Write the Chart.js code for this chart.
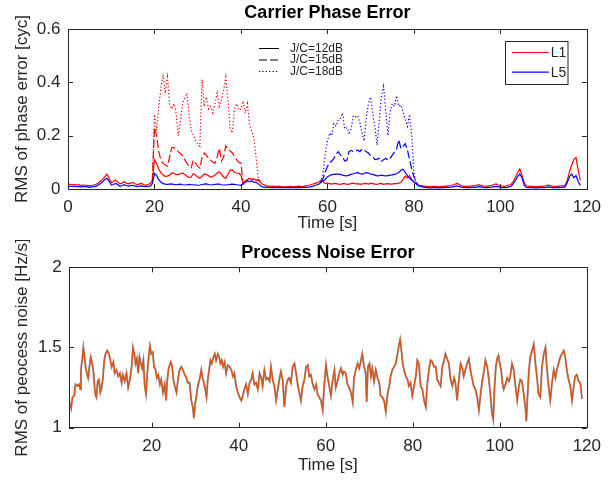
<!DOCTYPE html>
<html>
<head>
<meta charset="utf-8">
<script src="https://cdn.jsdelivr.net/npm/chart.js@4.4.1/dist/chart.umd.min.js"></script>
<style>
  body { margin: 0; background: #fff; }
  canvas { display: block; }
</style>
</head>
<body>
<canvas id="phaseChart" width="609" height="240"></canvas>
<canvas id="noiseChart" width="609" height="241"></canvas>
<script>
// ---------- data ----------
const bandLabels = ['L1', 'L5'];
const levelLabels = ['J/C=12dB', 'J/C=15dB', 'J/C=18dB'];

const phaseXTicks = [0, 20, 40, 60, 80, 100, 120];
const phaseYTicks = [0, 0.2, 0.4, 0.6];
const noiseXTicks = [20, 40, 60, 80, 100, 120];
const noiseYTicks = [1, 1.5, 2];

// RMS phase error, sampled every 0.5 s starting at t = 0
const sampleStep = 0.5;
const l1Solid = [
  .018,.017,.016,.017,.015,.016,.013,.015,.014,.013,
  .012,.014,.015,.018,.022,.03,.036,.045,.056,.04,
  .024,.028,.034,.026,.019,.022,.027,.022,.019,.022,
  .025,.02,.016,.019,.021,.017,.014,.017,.02,.03,
  .11,.095,.075,.06,.052,.047,.048,.052,.06,.058,
  .055,.054,.057,.06,.054,.048,.043,.045,.058,.052,
  .045,.04,.048,.056,.055,.05,.045,.047,.052,.06,
  .065,.055,.045,.04,.055,.07,.072,.063,.06,.058,
  .052,.018,.03,.035,.04,.035,.038,.032,.035,.025,
  .018,.015,.012,.011,.01,.011,.009,.01,.01,.009,
  .008,.009,.009,.01,.008,.009,.01,.011,.009,.01,
  .012,.014,.015,.018,.02,.023,.025,.034,.028,.02,
  .022,.02,.018,.021,.02,.018,.017,.02,.02,.017,
  .018,.021,.022,.019,.02,.018,.018,.021,.02,.018,
  .022,.02,.018,.017,.02,.021,.017,.019,.02,.018,
  .018,.02,.02,.022,.025,.035,.048,.042,.05,.036,
  .025,.02,.015,.013,.012,.011,.01,.009,.009,.01,
  .01,.009,.009,.01,.01,.011,.012,.013,.015,.018,
  .021,.017,.012,.011,.01,.01,.011,.012,.012,.014,
  .016,.014,.012,.011,.01,.012,.014,.017,.019,.015,
  .012,.011,.01,.012,.015,.017,.028,.045,.062,.075,
  .052,.024,.012,.011,.01,.01,.009,.009,.01,.01,
  .011,.012,.015,.014,.011,.01,.01,.011,.012,.012,
  .015,.034,.065,.09,.11,.118,.07,.032
];
const l5Solid = [
  .011,.01,.01,.01,.009,.009,.008,.009,.009,.008,
  .006,.008,.009,.011,.015,.02,.027,.035,.04,.03,
  .015,.017,.021,.017,.01,.012,.016,.013,.011,.013,
  .014,.011,.009,.011,.012,.01,.009,.01,.011,.02,
  .058,.05,.035,.025,.02,.018,.017,.018,.019,.017,
  .016,.017,.018,.016,.015,.016,.017,.016,.016,.015,
  .014,.015,.017,.018,.019,.017,.015,.016,.017,.018,
  .018,.016,.015,.015,.016,.017,.018,.017,.016,.015,
  .014,.02,.025,.03,.028,.03,.026,.025,.02,.012,
  .008,.007,.006,.006,.005,.006,.005,.005,.006,.005,
  .005,.005,.006,.005,.005,.006,.005,.006,.005,.006,
  .006,.007,.008,.01,.012,.015,.018,.025,.03,.036,
  .046,.05,.054,.055,.056,.056,.055,.052,.05,.049,
  .052,.055,.057,.06,.061,.058,.056,.058,.061,.06,
  .056,.055,.052,.049,.05,.052,.05,.049,.05,.052,
  .053,.055,.058,.062,.07,.074,.062,.05,.04,.034,
  .027,.021,.012,.01,.008,.006,.005,.004,.004,.005,
  .005,.004,.004,.005,.005,.006,.006,.007,.008,.01,
  .012,.009,.007,.006,.005,.005,.005,.006,.006,.007,
  .009,.008,.006,.005,.005,.006,.007,.009,.01,.008,
  .006,.005,.005,.006,.008,.01,.02,.033,.047,.056,
  .043,.014,.006,.005,.005,.005,.004,.004,.005,.005,
  .005,.006,.008,.007,.005,.005,.005,.005,.006,.006,
  .008,.025,.047,.056,.042,.05,.029,.013
];

// stronger jamming: only where they leave the 12dB curve
const l1JamStart = 19.5;
const l1Dashed = [
  .03,
  .23,.2,.14,.107,.096,.09,.086,.12,.155,.155,
  .147,.14,.132,.125,.11,.097,.085,.08,.108,.097,
  .085,.078,.12,.135,.127,.115,.108,.1,.097,.12,
  .152,.105,.12,.162,.15,.143,.135,.122,.11,.1,
  .097,.02,.03,.035,.04,.035,.038,.032,.035,.025
];
const l1Dotted = [
  .03,
  .28,.22,.31,.38,.43,.36,.42,.32,.3,.32,
  .285,.2,.25,.32,.34,.36,.28,.22,.2,.18,
  .17,.16,.41,.31,.345,.3,.31,.285,.32,.36,
  .31,.335,.37,.42,.33,.23,.21,.3,.32,.295,
  .3,.33,.285,.32,.24,.22,.19,.12,.045,.025
];
const l5JamStart = 58.5;
const l5Dashed = [
  .025,
  .04,.065,.085,.097,.105,.115,.13,.14,.128,.12,
  .105,.108,.14,.145,.14,.142,.146,.14,.15,.145,
  .14,.135,.125,.12,.11,.112,.115,.104,.11,.115,
  .108,.115,.127,.138,.15,.185,.152,.16,.17,.146,
  .11,.075,.046,.027,.012
];
const l5Dotted = [
  .025,
  .06,.13,.18,.21,.2,.245,.235,.26,.265,.285,
  .225,.23,.21,.225,.275,.27,.275,.25,.21,.18,
  .27,.32,.345,.28,.23,.165,.26,.35,.385,.29,
  .2,.29,.32,.31,.35,.31,.315,.29,.26,.235,
  .28,.2,.06,.025,.012
];

// RMS process noise
const noiseTime = [
  1,1.5,1.8,2.2,2.5,3,3.3,3.6,3.75,4.1,
  4.3,4.5,4.8,5.1,5.4,5.7,6,6.35,6.65,7,
  7.3,7.6,7.9,8.2,8.5,8.8,9.1,9.4,9.8,10.2,
  10.5,10.8,11.2,11.5,11.9,12.3,12.7,13.1,13.4,13.8,
  14.2,14.6,15,15.4,15.7,16,16.3,16.6,16.9,17.2,
  17.5,17.8,18.1,18.4,18.7,19,19.3,19.6,19.9,20.25,
  20.55,20.9,21.2,21.5,21.9,22.2,22.6,23,23.3,23.6,
  23.9,24.4,24.7,25,25.3,25.7,26.1,26.4,26.8,27.2,
  27.6,28,28.3,28.7,29.1,29.5,29.7,30,30.3,30.6,
  31,31.4,31.7,32,32.3,32.6,32.9,33.2,33.5,33.8,
  34.2,34.5,34.8,35.2,35.5,35.8,36.1,36.4,36.75,37.1,
  37.5,37.9,38.3,38.7,39,39.4,39.8,40.2,40.6,40.95,
  41.3,41.7,42.1,42.5,42.9,43.2,43.6,44,44.4,44.8,
  45.2,45.5,45.9,46.3,46.7,47.1,47.4,47.8,48.2,48.6,
  49,49.4,49.7,50.1,50.5,50.9,51.3,51.6,52,52.4,
  52.8,53.2,53.6,54,54.3,54.7,55.1,55.5,55.9,56.2,
  56.6,57,57.4,57.8,58.1,58.5,58.9,59.3,59.7,60.05,
  60.4,60.8,61.2,61.6,62,62.3,62.7,63.1,63.5,63.9,
  64.2,64.6,65,65.4,65.8,66.2,66.5,66.9,67.3,67.7,
  68.1,68.4,68.8,69.2,69.4,69.7,70.05,70.4,70.7,71.1,
  71.5,71.9,72.3,72.6,73,73.4,73.8,74.2,74.6,74.9,
  75.3,75.7,76.1,76.5,76.85,77.1,77.4,77.7,78,78.4,
  78.8,79.1,79.5,79.9,80.3,80.7,81.05,81.4,81.8,82.2,
  82.6,83,83.3,83.7,84.1,84.5,84.9,85.3,85.6,86,
  86.4,86.8,87.2,87.5,87.9,88.3,88.7,89.1,89.5,89.8,
  90.2,90.6,91,91.4,91.7,92.1,92.5,92.9,93.3,93.7,
  94,94.4,94.8,95.2,95.6,96,96.3,96.7,97.1,97.5,
  97.9,98.2,98.5,98.8,99.1,99.4,99.7,100,100.3,100.6,
  100.9,101.3,101.7,102.1,102.4,102.8,103.2,103.6,104,104.4,
  104.7,105.1,105.5,105.9,106.1,106.4,106.7,107,107.4,107.8,
  108.2,108.6,108.9,109.3,109.7,110.1,110.5,110.8,111.2,111.6,
  112,112.4,112.8,113.1,113.5,113.9,114.3,114.7,115.05,115.4,
  115.8,116.2,116.6,117,117.3,117.7,118.1,118.5,118.9
];
const noiseVal = [
  1.17,1.12,1.19,1.20,1.27,1.26,1.27,1.24,1.36,1.44,
  1.50,1.46,1.38,1.34,1.31,1.38,1.44,1.40,1.34,1.21,
  1.19,1.29,1.30,1.22,1.25,1.31,1.42,1.46,1.48,1.46,
  1.42,1.38,1.41,1.34,1.36,1.32,1.34,1.28,1.33,1.29,
  1.34,1.25,1.30,1.38,1.50,1.46,1.40,1.43,1.34,1.44,
  1.40,1.37,1.42,1.26,1.21,1.34,1.44,1.51,1.46,1.47,
  1.38,1.36,1.31,1.33,1.27,1.30,1.22,1.27,1.17,1.30,
  1.37,1.41,1.38,1.30,1.26,1.22,1.31,1.36,1.38,1.36,
  1.33,1.31,1.28,1.28,1.17,1.12,1.06,1.15,1.20,1.26,
  1.30,1.36,1.31,1.28,1.24,1.19,1.30,1.36,1.42,1.40,
  1.44,1.46,1.42,1.46,1.44,1.40,1.42,1.38,1.41,1.34,
  1.39,1.38,1.36,1.32,1.34,1.26,1.22,1.19,1.17,1.20,
  1.24,1.27,1.21,1.28,1.30,1.34,1.27,1.28,1.24,1.34,
  1.31,1.26,1.36,1.30,1.31,1.29,1.38,1.30,1.26,1.17,
  1.24,1.31,1.35,1.30,1.13,1.26,1.30,1.31,1.28,1.38,
  1.40,1.34,1.26,1.21,1.17,1.26,1.30,1.38,1.39,1.32,
  1.33,1.27,1.24,1.27,1.21,1.19,1.17,1.11,1.28,1.39,
  1.32,1.26,1.20,1.30,1.36,1.25,1.29,1.34,1.37,1.33,
  1.35,1.34,1.27,1.25,1.22,1.16,1.31,1.36,1.40,1.37,
  1.42,1.46,1.38,1.34,1.16,1.38,1.40,1.32,1.37,1.29,
  1.36,1.31,1.28,1.20,1.19,1.17,1.10,1.21,1.26,1.32,
  1.36,1.38,1.40,1.46,1.52,1.55,1.48,1.40,1.36,1.32,
  1.30,1.26,1.28,1.20,1.26,1.32,1.42,1.40,1.26,1.24,
  1.17,1.13,1.26,1.36,1.42,1.41,1.38,1.38,1.30,1.28,
  1.26,1.38,1.42,1.46,1.43,1.40,1.30,1.26,1.31,1.28,
  1.17,1.30,1.40,1.37,1.32,1.36,1.40,1.43,1.35,1.30,
  1.26,1.24,1.19,1.11,1.21,1.30,1.34,1.42,1.38,1.30,
  1.19,1.09,1.05,1.26,1.38,1.43,1.45,1.40,1.36,1.28,
  1.24,1.27,1.31,1.29,1.32,1.40,1.36,1.26,1.17,1.26,
  1.30,1.29,1.21,1.12,1.04,1.21,1.36,1.44,1.48,1.52,
  1.40,1.30,1.21,1.19,1.38,1.46,1.50,1.38,1.26,1.17,
  1.28,1.36,1.31,1.36,1.40,1.44,1.46,1.48,1.44,1.36,
  1.30,1.26,1.17,1.26,1.32,1.33,1.29,1.28,1.18
];

// ---------- styling ----------
const axisColor = '#262626';
const bandColors = ['#ff0000', '#0000ff'];
const levelDash = [[], [8, 3], [1.2, 2.2]];

Chart.defaults.font.family = "'Liberation Sans', Arial, Helvetica, sans-serif";
Chart.defaults.color = axisColor;

function sampled(start, vals) {
  return vals.map((v, i) => ({ x: start + i * sampleStep, y: v }));
}

function axis(min, max, tickValues, title, o) {
  return {
    type: 'linear', min: min, max: max,
    grid: { display: false, drawTicks: false },
    border: { display: false },
    afterBuildTicks: s => { s.ticks = tickValues.map(v => ({ value: v })); },
    afterFit: s => { if (s.isHorizontal()) s.height = o.size; else s.width = o.size; },
    ticks: { font: { size: 17 }, padding: o.pad, maxRotation: 0, autoSkip: false, callback: v => String(v) },
    title: { display: true, text: title, font: { size: 17 }, padding: o.titlePad }
  };
}

// MATLAB style box with inward ticks
const matlabBox = {
  id: 'matlabBox',
  afterDatasetsDraw(chart) {
    const { ctx, chartArea: a, scales: { x, y } } = chart;
    ctx.save();
    ctx.lineWidth = 1;
    ctx.strokeStyle = axisColor;
    ctx.beginPath();
    x.ticks.forEach(t => {
      const px = Math.round(x.getPixelForValue(t.value)) + 0.5;
      ctx.moveTo(px, a.bottom); ctx.lineTo(px, a.bottom - 5);
      ctx.moveTo(px, a.top); ctx.lineTo(px, a.top + 5);
    });
    y.ticks.forEach(t => {
      const py = Math.round(y.getPixelForValue(t.value)) + 0.5;
      ctx.moveTo(a.left, py); ctx.lineTo(a.left + 5, py);
      ctx.moveTo(a.right, py); ctx.lineTo(a.right - 5, py);
    });
    ctx.stroke();
    ctx.strokeRect(Math.round(a.left) + 0.5, Math.round(a.top) + 0.5,
      Math.round(a.width), Math.round(a.height));
    ctx.restore();
  }
};

// the two legends of the phase plot
const phaseLegends = {
  id: 'phaseLegends',
  afterDraw(chart) {
    const { ctx, chartArea: a } = chart;
    ctx.save();
    ctx.lineWidth = 1;
    ctx.textBaseline = 'middle';
    // line styles
    ctx.font = "12px 'Liberation Sans', Arial, sans-serif";
    levelLabels.forEach((lab, i) => {
      const yy = a.top + 19.5 + i * 11.5;
      ctx.strokeStyle = '#000';
      ctx.setLineDash(levelDash[i]);
      ctx.beginPath();
      ctx.moveTo(a.left + 191, yy); ctx.lineTo(a.left + 211, yy);
      ctx.stroke();
      ctx.setLineDash([]);
      ctx.fillStyle = axisColor;
      ctx.fillText(lab, a.left + 222, yy);
    });
    // bands
    const bx = a.right - 81.5, by = a.top + 11.5, bw = 62.5, bh = 43;
    ctx.fillStyle = '#fff';
    ctx.fillRect(bx, by, bw, bh);
    ctx.strokeStyle = axisColor;
    ctx.strokeRect(Math.round(bx) + 0.5, Math.round(by) + 0.5, bw, bh);
    ctx.font = "14px 'Liberation Sans', Arial, sans-serif";
    bandLabels.forEach((lab, i) => {
      const yy = by + 12 + i * 19.6;
      ctx.strokeStyle = bandColors[i];
      ctx.lineWidth = 1.2;
      ctx.beginPath();
      ctx.moveTo(bx + 6.5, yy); ctx.lineTo(bx + 43.5, yy);
      ctx.stroke();
      ctx.fillStyle = axisColor;
      ctx.fillText(lab, bx + 45.5, yy + 1);
    });
    ctx.restore();
  }
};

function line(label, data, color, dash, width) {
  return {
    label: label, data: data, borderColor: color, borderDash: dash,
    borderWidth: width, pointRadius: 0, tension: 0, fill: false
  };
}

// ---------- top: carrier phase error ----------
const phaseSets = [
  line('L5 ' + levelLabels[0], sampled(0, l5Solid), bandColors[1], levelDash[0], 1.2),
  line('L5 ' + levelLabels[1], sampled(l5JamStart, l5Dashed), bandColors[1], levelDash[1], 1.2),
  line('L5 ' + levelLabels[2], sampled(l5JamStart, l5Dotted), bandColors[1], levelDash[2], 1.2),
  line('L1 ' + levelLabels[0], sampled(0, l1Solid), bandColors[0], levelDash[0], 1.2),
  line('L1 ' + levelLabels[1], sampled(l1JamStart, l1Dashed), bandColors[0], levelDash[1], 1.2),
  line('L1 ' + levelLabels[2], sampled(l1JamStart, l1Dotted), bandColors[0], levelDash[2], 1.2)
];

new Chart(document.getElementById('phaseChart'), {
  type: 'line',
  data: { datasets: phaseSets },
  options: {
    responsive: false,
    animation: false,
    layout: { padding: { left: 0, right: 21, top: 0, bottom: 0 } },
    plugins: {
      legend: { display: false },
      tooltip: { enabled: false },
      title: {
        display: true, text: 'Carrier Phase Error', color: '#000', fullSize: false,
        font: { size: 18, weight: 'bold' }, padding: { top: 2, bottom: 5.4 }
      }
    },
    scales: {
      x: axis(0, 120, phaseXTicks, 'Time [s]', { size: 51, pad: 8, titlePad: { bottom: 6 } }),
      y: axis(0, 0.6, phaseYTicks, 'RMS of phase error [cyc]', { size: 68, pad: 7.5, titlePad: { top: 12 } })
    }
  },
  plugins: [matlabBox, phaseLegends]
});

// ---------- bottom: process noise error ----------
const noisePoints = noiseTime.map((t, i) => ({ x: t, y: noiseVal[i] }));

new Chart(document.getElementById('noiseChart'), {
  type: 'line',
  data: {
    datasets: [
      line('estimated', noisePoints, '#D95319', [], 1.3),
      line('true', noisePoints, '#a0a0a0', [], 2)
    ]
  },
  options: {
    responsive: false,
    animation: false,
    layout: { padding: { left: 0, right: 20.7, top: 0, bottom: 0 } },
    plugins: {
      legend: { display: false },
      tooltip: { enabled: false },
      title: {
        display: true, text: 'Process Noise Error', color: '#000', fullSize: false,
        font: { size: 18, weight: 'bold' }, padding: { top: 2, bottom: 3.7 }
      }
    },
    scales: {
      x: axis(1, 120, noiseXTicks, 'Time [s]', { size: 53.3, pad: 8, titlePad: { bottom: 5.8 } }),
      y: axis(1, 2, noiseYTicks, 'RMS of peocess noise [Hz/s]', { size: 69, pad: 7.3, titlePad: { top: 12 } })
    }
  },
  plugins: [matlabBox]
});
</script>
</body>
</html>
